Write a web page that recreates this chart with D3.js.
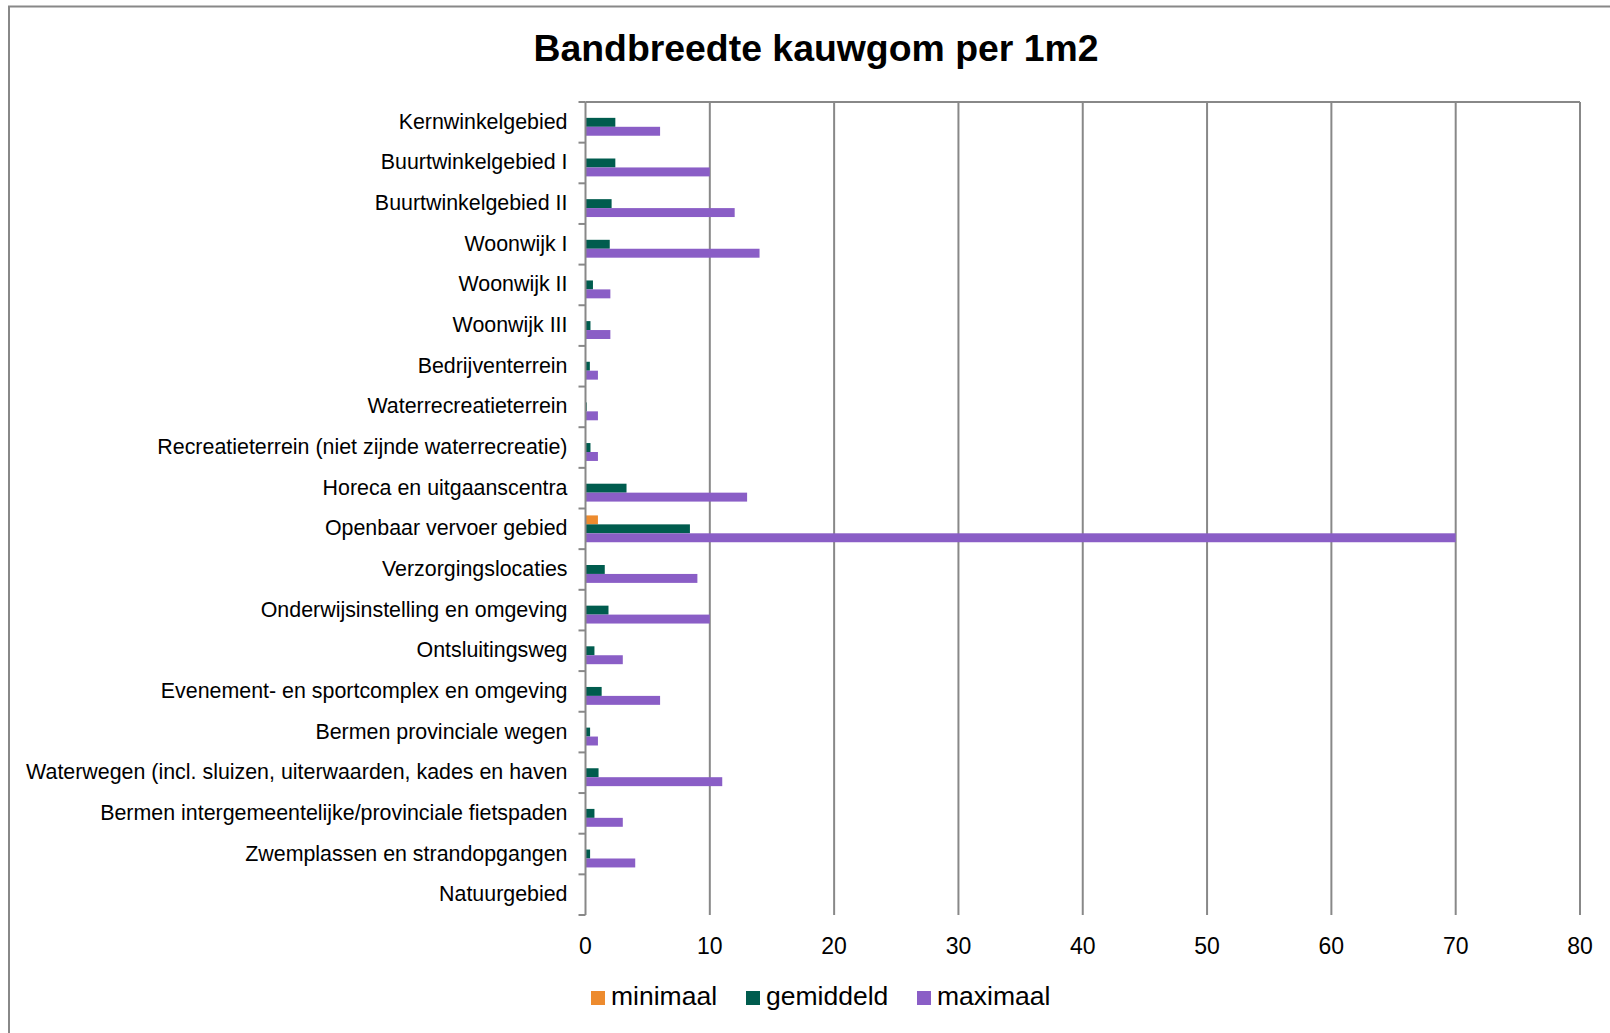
<!DOCTYPE html>
<html lang="nl">
<head>
<meta charset="utf-8">
<title>Bandbreedte kauwgom per 1m2</title>
<script src="https://d3js.org/d3.v7.min.js"></script>
<style>
  body { margin: 0; background: #fff; }
  svg text { font-family: "Liberation Sans", Arial, sans-serif; fill: #000; }
</style>
</head>
<body>
<script>
// categories, top to bottom
var categories = [
  "Kernwinkelgebied",
  "Buurtwinkelgebied I",
  "Buurtwinkelgebied II",
  "Woonwijk I",
  "Woonwijk II",
  "Woonwijk III",
  "Bedrijventerrein",
  "Waterrecreatieterrein",
  "Recreatieterrein (niet zijnde waterrecreatie)",
  "Horeca en uitgaanscentra",
  "Openbaar vervoer gebied",
  "Verzorgingslocaties",
  "Onderwijsinstelling en omgeving",
  "Ontsluitingsweg",
  "Evenement- en sportcomplex en omgeving",
  "Bermen provinciale wegen",
  "Waterwegen (incl. sluizen, uiterwaarden, kades en haven",
  "Bermen intergemeentelijke/provinciale fietspaden",
  "Zwemplassen en strandopgangen",
  "Natuurgebied"
];
var minimaal   = [0, 0, 0, 0, 0, 0, 0, 0, 0, 0, 1, 0, 0, 0, 0, 0, 0, 0, 0, 0];
var gemiddeld  = [2.4, 2.4, 2.1, 1.95, 0.6, 0.4, 0.35, 0.1, 0.4, 3.3, 8.4, 1.55, 1.85, 0.72, 1.3, 0.37, 1.05, 0.72, 0.37, 0];
var maximaal   = [6, 10, 12, 14, 2, 2, 1, 1, 1, 13, 70, 9, 10, 3, 6, 1, 11, 3, 4, 0];
var seriesNames  = ["minimaal", "gemiddeld", "maximaal"];
var seriesColors = ["#ED8B2E", "#005C4E", "#8A5EC6"];
var xTicks = [0, 10, 20, 30, 40, 50, 60, 70, 80];

var W = 1610, H = 1033;
var margin = {left: 585.5, right: 30, top: 102, bottom: 118};

var svg = d3.select("body").append("svg")
    .attr("width", W)
    .attr("height", H);

// outer frame (runs off the right and bottom edge)
svg.append("rect")
    .attr("x", 9).attr("y", 6.5)
    .attr("width", 1700).attr("height", 1100)
    .attr("fill", "none")
    .attr("stroke", "#888").attr("stroke-width", 2);

svg.append("text")
    .attr("x", 816).attr("y", 61)
    .attr("text-anchor", "middle")
    .style("font-size", "37.4px")
    .style("font-weight", "bold")
    .text("Bandbreedte kauwgom per 1m2");

var x = d3.scaleLinear()
    .domain([0, 80])
    .range([margin.left, 1580]);

var y = d3.scaleBand()
    .domain(categories)
    .range([margin.top, 915])
    .paddingInner(0.34)
    .paddingOuter(0.17);

var ySub = d3.scaleBand()
    .domain(seriesNames)
    .range([0, y.bandwidth()]);

// vertical gridlines
svg.append("g")
  .selectAll("line")
  .data(xTicks.slice(1))
  .join("line")
    .attr("x1", function(d) { return x(d); })
    .attr("x2", function(d) { return x(d); })
    .attr("y1", margin.top).attr("y2", 915)
    .attr("stroke", "#888").attr("stroke-width", 2);

// top border of plot area
svg.append("line")
    .attr("x1", x(0)).attr("x2", x(80))
    .attr("y1", margin.top).attr("y2", margin.top)
    .attr("stroke", "#888").attr("stroke-width", 2);

// x tick labels
svg.append("g")
  .selectAll("text")
  .data(xTicks)
  .join("text")
    .attr("x", function(d) { return x(d); })
    .attr("y", 954)
    .attr("text-anchor", "middle")
    .style("font-size", "23px")
    .text(function(d) { return d; });

// bars
var rows = categories.map(function(c, i) {
  return {cat: c, vals: [minimaal[i], gemiddeld[i], maximaal[i]]};
});

var groups = svg.append("g")
  .selectAll("g")
  .data(rows)
  .join("g")
    .attr("transform", function(d) { return "translate(0," + y(d.cat) + ")"; });

groups.selectAll("rect")
  .data(function(d) {
    return d.vals.map(function(v, k) { return {name: seriesNames[k], value: v, color: seriesColors[k]}; });
  })
  .join("rect")
    .attr("x", x(0))
    .attr("y", function(d) { return ySub(d.name); })
    .attr("width", function(d) { return x(d.value) - x(0); })
    .attr("height", ySub.bandwidth())
    .attr("fill", function(d) { return d.color; });

// category axis
var yAxis = svg.append("g")
    .attr("transform", "translate(" + x(0) + ",0)");

yAxis.append("line")
    .attr("y1", margin.top).attr("y2", 915)
    .attr("stroke", "#888").attr("stroke-width", 2);

yAxis.selectAll("line.tick")
  .data(d3.range(categories.length + 1))
  .join("line")
    .attr("class", "tick")
    .attr("x1", -7).attr("x2", 0)
    .attr("y1", function(i) { return margin.top + i * y.step(); })
    .attr("y2", function(i) { return margin.top + i * y.step(); })
    .attr("stroke", "#888").attr("stroke-width", 2);

yAxis.selectAll("text")
  .data(categories)
  .join("text")
    .attr("x", -18)
    .attr("y", function(d) { return y(d) + y.bandwidth() / 2 - 1; })
    .attr("dy", "0.35em")
    .attr("text-anchor", "end")
    .style("font-size", "21.4px")
    .text(function(d) { return d; });

// legend
var legendX = [591, 746, 917];
var legend = svg.append("g")
  .selectAll("g")
  .data(seriesNames)
  .join("g")
    .attr("transform", function(d, i) { return "translate(" + legendX[i] + ",991)"; });

legend.append("rect")
    .attr("width", 14).attr("height", 14)
    .attr("fill", function(d, i) { return seriesColors[i]; });

legend.append("text")
    .attr("x", 20).attr("y", 14)
    .style("font-size", "26.5px")
    .text(function(d) { return d; });
</script>
</body>
</html>
